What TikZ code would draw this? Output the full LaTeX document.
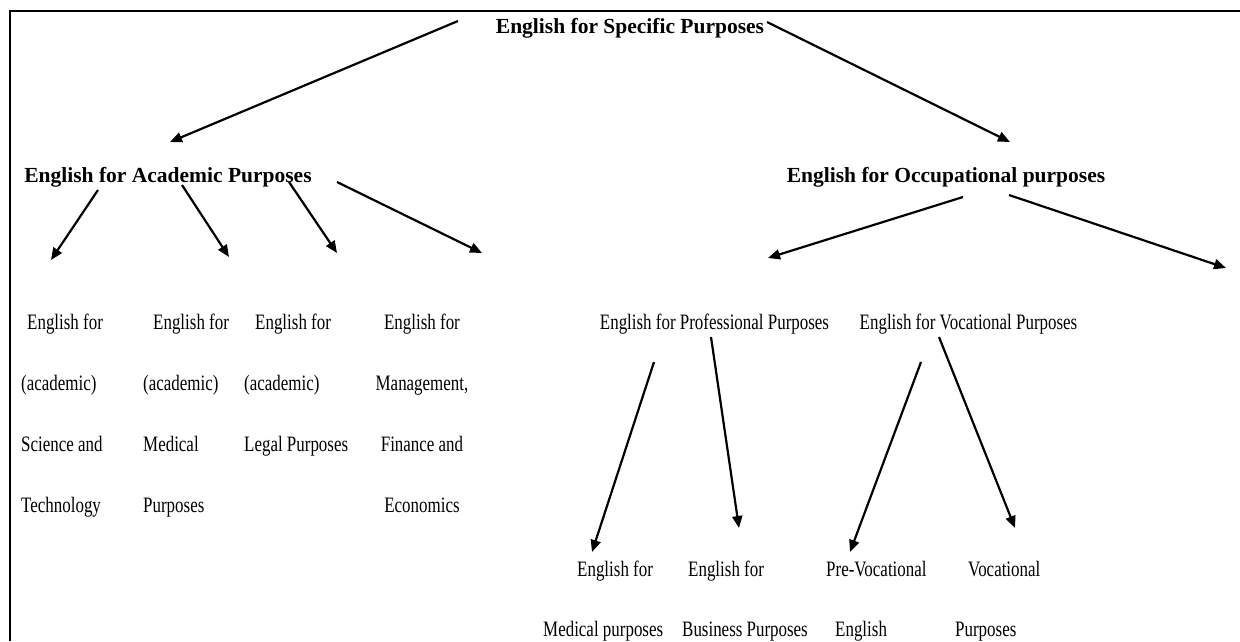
\documentclass[tikz,border=0pt]{standalone}
\usepackage{fontspec}
\setmainfont{Liberation Serif}[FakeStretch=0.77]
\newfontfamily\ttlfont{Liberation Serif}
\usetikzlibrary{arrows.meta}
\begin{document}
\begin{tikzpicture}[x=1pt,y=-1pt,
  lbl/.style={inner sep=0pt, font=\fontsize{22}{61}\selectfont, align=left, anchor=north west},
  lblb/.style={inner sep=0pt, font=\fontsize{22}{60}\selectfont, align=left, anchor=north west},
  one/.style={inner sep=0pt, font=\fontsize{22}{26}\selectfont},
  ttl/.style={inner sep=0pt, font=\ttlfont\fontsize{21.5}{25}\selectfont\bfseries},
  conn/.style={line width=2.2pt, -{Triangle[length=12pt,width=10pt]}},
  frameline/.style={line width=2pt}]
\useasboundingbox (0,0) rectangle (1240,641);
\draw[frameline] (1240,11) -- (10,11) -- (10,641);

% titles
\node[ttl] (esp) at (630,28) {English for Specific Purposes};
\node[ttl] (eap) at (168,177) {English for Academic Purposes};
\node[ttl] (eop) at (946,177) {English for Occupational purposes};

% academic branches
\node[lbl] (ast) at (21,314) {\hspace*{6pt}English for\\(academic)\\Science and\\Technology};
\node[lbl] (amed) at (143,314) {\hspace*{10pt}English for\\(academic)\\Medical\\Purposes};
\node[lbl] (aleg) at (244,314) {\hspace*{11pt}English for\\(academic)\\Legal Purposes};
\node[lbl, align=center, anchor=north] (amfe) at (422,314) {English for\\Management,\\Finance and\\Economics};

% occupational branches
\node[one] (epp) at (714.5,324) {English for Professional Purposes};
\node[one] (evp) at (968.5,324) {English for Vocational Purposes};

% bottom level
\node[lblb] (emed) at (543,561) {\hspace*{34pt}English for\\Medical purposes};
\node[lblb] (ebus) at (682,561) {\hspace*{6pt}English for\\Business Purposes};
\node[lblb] (prev) at (826,561) {Pre-Vocational\\\hspace*{9pt}English};
\node[lblb] (voc) at (955,561) {\hspace*{13pt}Vocational\\Purposes};

% connector end points
\coordinate (espL) at (458,21);   \coordinate (eapT) at (170,142);
\coordinate (espR) at (767,22);   \coordinate (eopT) at (1010,142);
\coordinate (eap1) at (98,190);   \coordinate (astT) at (51,260);
\coordinate (eap2) at (182,185);  \coordinate (amedT) at (229,257);
\coordinate (eap3) at (289,182);  \coordinate (alegT) at (337,253);
\coordinate (eap4) at (337,182);  \coordinate (amfeT) at (482,253);
\coordinate (eop1) at (963,197);  \coordinate (eppT) at (768,258);
\coordinate (eop2) at (1009,195); \coordinate (evpT) at (1226,268);
\coordinate (epp1) at (654,362);  \coordinate (emedT) at (592,552);
\coordinate (epp2) at (711,337);  \coordinate (ebusT) at (739,528);
\coordinate (evp1) at (921,362);  \coordinate (prevT) at (850,552);
\coordinate (evp2) at (939,337);  \coordinate (vocT) at (1015,528);

\draw[conn] (espL) -- (eapT);
\draw[conn] (espR) -- (eopT);
\draw[conn] (eap1) -- (astT);
\draw[conn] (eap2) -- (amedT);
\draw[conn] (eap3) -- (alegT);
\draw[conn] (eap4) -- (amfeT);
\draw[conn] (eop1) -- (eppT);
\draw[conn] (eop2) -- (evpT);
\draw[conn] (epp1) -- (emedT);
\draw[conn] (epp2) -- (ebusT);
\draw[conn] (evp1) -- (prevT);
\draw[conn] (evp2) -- (vocT);
\end{tikzpicture}
\end{document}
